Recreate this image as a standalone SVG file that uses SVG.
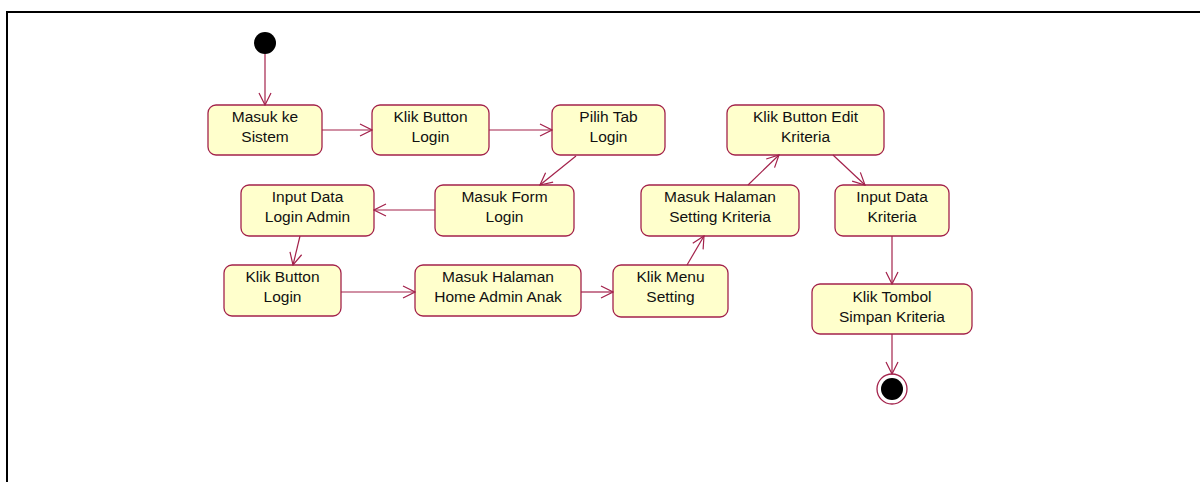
<svg xmlns="http://www.w3.org/2000/svg" width="1200" height="482" viewBox="0 0 1200 482">
<defs>
<style>
.n rect{fill:#FFFFCC;stroke:#A3224B;stroke-width:1.3}
.n text{font-family:"Liberation Sans",Arial,sans-serif;font-size:15.5px;fill:#111;text-anchor:middle}
#connectors line{stroke:#A3224B;stroke-width:1.2;fill:none;marker-end:url(#arr)}
</style>
<marker id="arr" markerWidth="14" markerHeight="14" refX="13" refY="7" orient="auto" markerUnits="userSpaceOnUse">
<path d="M1,1 L13,7 L1,13" fill="none" stroke="#A3224B" stroke-width="1.2"/>
</marker>
</defs>
<rect width="1200" height="482" fill="#ffffff"/>
<path d="M7,482 V12 H1200" fill="none" stroke="#000" stroke-width="2"/>

<g id="start"><circle cx="265" cy="43" r="11" fill="#000"/></g>

<g id="n1" class="n"><rect x="208" y="105" width="114" height="50" rx="8"/><text x="265" y="122">Masuk ke</text><text x="265" y="142">Sistem</text></g>
<g id="n2" class="n"><rect x="372" y="105" width="117" height="50" rx="8"/><text x="430.5" y="122">Klik Button</text><text x="430.5" y="142">Login</text></g>
<g id="n3" class="n"><rect x="552" y="105" width="113" height="50" rx="8"/><text x="608.5" y="122">Pilih Tab</text><text x="608.5" y="142">Login</text></g>
<g id="n4" class="n"><rect x="435" y="185" width="139" height="51" rx="8"/><text x="504.5" y="202">Masuk Form</text><text x="504.5" y="222">Login</text></g>
<g id="n5" class="n"><rect x="241" y="185" width="133" height="51" rx="8"/><text x="307.5" y="202">Input Data</text><text x="307.5" y="222">Login Admin</text></g>
<g id="n6" class="n"><rect x="224" y="265" width="117" height="51" rx="8"/><text x="282.5" y="282">Klik Button</text><text x="282.5" y="302">Login</text></g>
<g id="n7" class="n"><rect x="415" y="265" width="166" height="51" rx="8"/><text x="498" y="282">Masuk Halaman</text><text x="498" y="302">Home Admin Anak</text></g>
<g id="n8" class="n"><rect x="613" y="265" width="115" height="52" rx="8"/><text x="670.5" y="282">Klik Menu</text><text x="670.5" y="302">Setting</text></g>
<g id="n9" class="n"><rect x="641" y="185" width="158" height="51" rx="8"/><text x="720" y="202">Masuk Halaman</text><text x="720" y="222">Setting Kriteria</text></g>
<g id="n10" class="n"><rect x="727" y="105" width="157" height="50" rx="8"/><text x="805.5" y="122">Klik Button Edit</text><text x="805.5" y="142">Kriteria</text></g>
<g id="n11" class="n"><rect x="835" y="185" width="114" height="51" rx="8"/><text x="892" y="202">Input Data</text><text x="892" y="222">Kriteria</text></g>
<g id="n12" class="n"><rect x="812" y="284" width="160" height="50" rx="8"/><text x="892" y="302">Klik Tombol</text><text x="892" y="322">Simpan Kriteria</text></g>

<g id="end"><circle cx="892" cy="389" r="15" fill="#fff" stroke="#A3224B" stroke-width="1.3"/><circle cx="892" cy="389" r="11" fill="#000"/></g>

<g id="connectors">
<line x1="265" y1="54" x2="265" y2="105"/>
<line x1="322" y1="130" x2="372" y2="130"/>
<line x1="489" y1="130" x2="552" y2="130"/>
<line x1="576" y1="156" x2="540" y2="185"/>
<line x1="435" y1="210" x2="374" y2="210"/>
<line x1="300" y1="236" x2="293" y2="265"/>
<line x1="341" y1="292" x2="415" y2="292"/>
<line x1="581" y1="292" x2="613" y2="292"/>
<line x1="687" y1="265" x2="704" y2="236"/>
<line x1="748" y1="185" x2="779" y2="155"/>
<line x1="833" y1="155" x2="865" y2="185"/>
<line x1="892" y1="236" x2="892" y2="284"/>
<line x1="892" y1="334" x2="892" y2="374"/>
</g>
</svg>
